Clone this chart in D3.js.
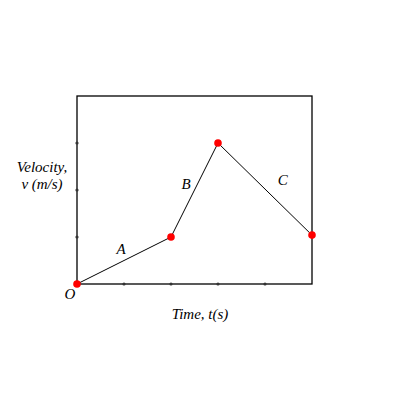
<!DOCTYPE html>
<html><head><meta charset="utf-8">
<script src="https://cdn.jsdelivr.net/npm/d3@7"></script>
<style>body{margin:0;background:#fff}text{font-family:"Liberation Serif","DejaVu Serif",serif;font-style:italic;font-size:15px;fill:#000}</style>
</head><body><svg id="c" width="400" height="400"></svg>
<script>
const times = [0, 2, 3, 5];
const velocities = [0, 1, 3, 1.04];
const xTicks = [1, 2, 3, 4];
const yTicks = [1, 2, 3];
const segLabels = [
  {name: "A", t: 1, v: 0.64, dx: -3, dy: 0},
  {name: "B", t: 2.5, v: 2.02, dx: -8.5, dy: 0},
  {name: "C", t: 4.4, v: 2.1, dx: -1, dy: 0}
];
const svg = d3.select("#c");
const x = d3.scaleLinear().domain([0, 5]).range([77, 312]);
const y = d3.scaleLinear().domain([0, 4]).range([284, 96]);
svg.append("rect").attr("x", x(0)).attr("y", y(4)).attr("width", x(5) - x(0)).attr("height", y(0) - y(4))
  .attr("fill", "none").attr("stroke", "#000").attr("stroke-width", 1.3);
svg.selectAll(".xt").data(xTicks).join("circle").attr("cx", d => x(d)).attr("cy", y(0)).attr("r", 1.6).attr("fill", "#333");
svg.selectAll(".yt").data(yTicks).join("circle").attr("cx", x(0)).attr("cy", d => y(d)).attr("r", 1.6).attr("fill", "#333");
const pts = times.map((t, i) => [t, velocities[i]]);
svg.append("path").attr("d", d3.line().x(d => x(d[0])).y(d => y(d[1]))(pts)).attr("fill", "none").attr("stroke", "#000").attr("stroke-width", 1);
svg.selectAll(".pt").data(pts).join("circle").attr("cx", d => x(d[0])).attr("cy", d => y(d[1])).attr("r", 3.8).attr("fill", "#f00");
svg.selectAll(".sl").data(segLabels).join("text").attr("x", d => x(d.t) + d.dx).attr("y", d => y(d.v) + d.dy).attr("text-anchor", "middle").text(d => d.name);
svg.append("text").attr("x", x(0) - 7).attr("y", y(0) + 15).attr("text-anchor", "middle").text("O");
svg.append("text").attr("x", 42).attr("y", 172).attr("text-anchor", "middle").text("Velocity,");
svg.append("text").attr("x", 42).attr("y", 189).attr("text-anchor", "middle").text("v (m/s)");
svg.append("text").attr("x", 200).attr("y", 319).attr("text-anchor", "middle").text("Time, t(s)");
</script></body></html>
